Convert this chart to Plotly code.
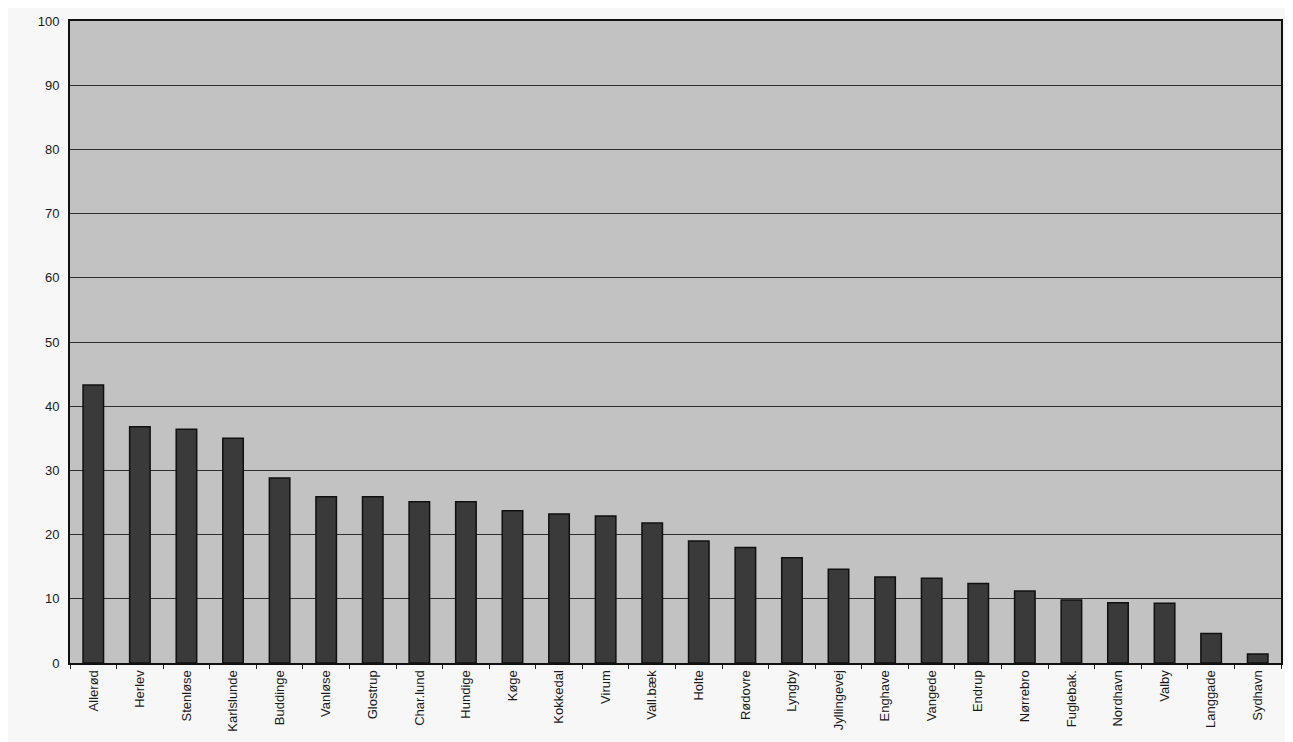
import plotly.graph_objects as go

categories = ["Allerød", "Herlev", "Stenløse", "Karlslunde", "Buddinge", "Vanløse",
              "Glostrup", "Char.lund", "Hundige", "Køge", "Kokkedal", "Virum",
              "Vall.bæk", "Holte", "Rødovre", "Lyngby", "Jyllingevej", "Enghave",
              "Vangede", "Endrup", "Nørrebro", "Fuglebak.", "Nordhavn", "Valby",
              "Langgade", "Sydhavn"]
values = [43.3, 36.8, 36.4, 35.0, 28.8, 25.9,
          25.9, 25.1, 25.1, 23.7, 23.2, 22.9,
          21.8, 19.0, 18.0, 16.4, 14.6, 13.4,
          13.2, 12.4, 11.2, 9.8, 9.4, 9.3,
          4.6, 1.4]
y_ticks = [0, 10, 20, 30, 40, 50, 60, 70, 80, 90, 100]

fig = go.Figure()
fig.add_trace(go.Bar(
    x=categories, y=values,
    marker=dict(color="#3a3a3a", line=dict(color="#101010", width=1.5)),
    width=0.44,
))

fig.update_layout(
    width=1293, height=742,
    margin=dict(l=62, r=20, t=6, b=87),
    paper_bgcolor="#f7f7f7",
    plot_bgcolor="#c2c2c2",
    showlegend=False,
    font=dict(family="Liberation Sans, Arial", size=13, color="#1a1a1a"),
)
fig.update_xaxes(
    type="category", tickangle=-90, ticks="outside", tickson="boundaries",
    ticklen=4, tickcolor="#222", showline=True, linecolor="#111", linewidth=2,
    mirror=True, showgrid=False, tickfont=dict(size=13),
)
fig.update_yaxes(
    range=[0, 100], tickvals=y_ticks, ticks="", ticklabelstandoff=6,
    showline=True, linecolor="#111", linewidth=2, mirror=True,
    showgrid=True, gridcolor="#2e2e2e", gridwidth=1.2, zeroline=False,
    tickfont=dict(size=13),
)

fig.write_html("out.html")
